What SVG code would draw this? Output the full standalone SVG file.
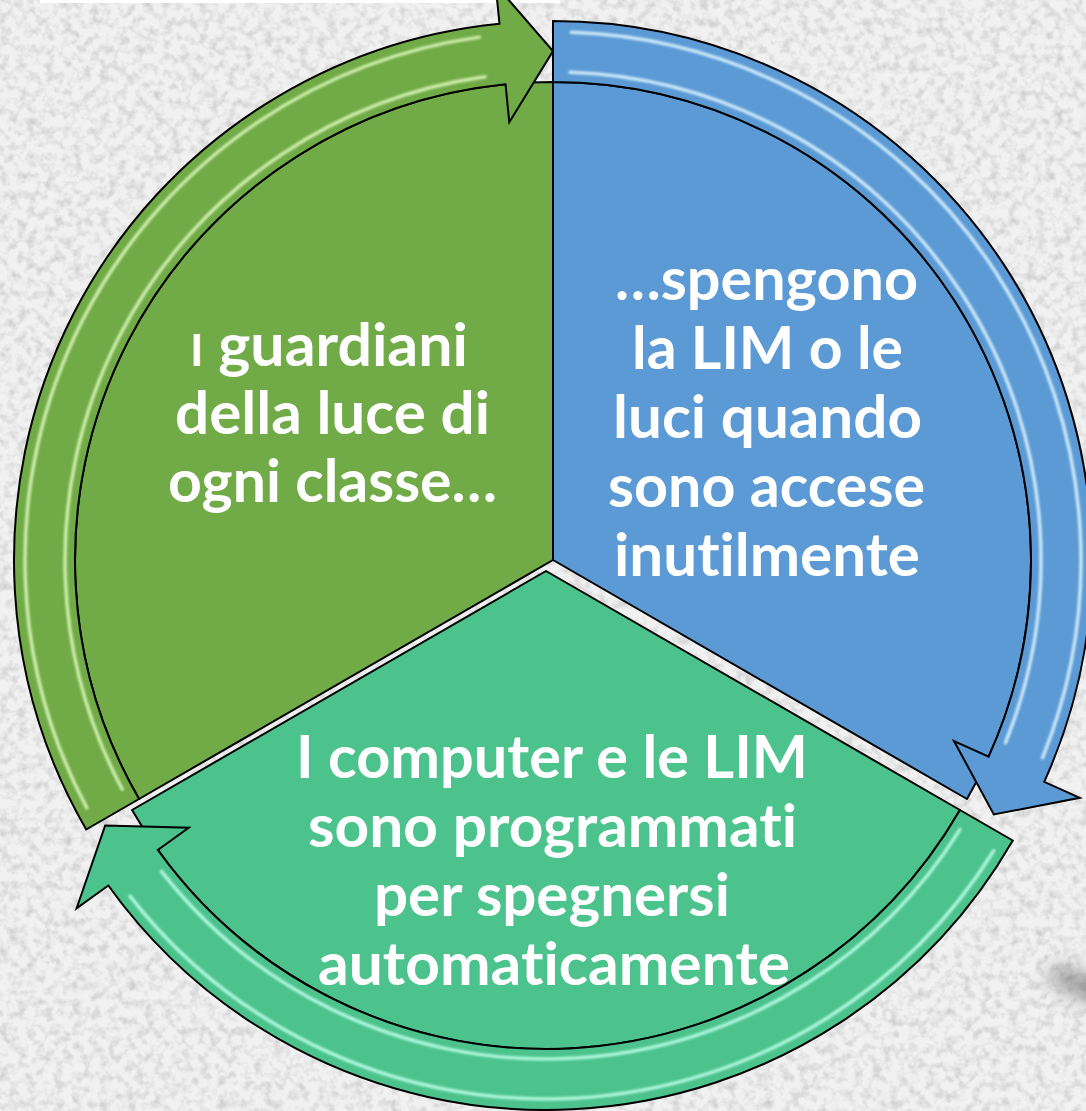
<svg xmlns="http://www.w3.org/2000/svg" width="1086" height="1111" viewBox="0 0 1086 1111">
<defs>
<filter id="noise" x="0" y="0" width="100%" height="100%">
<feTurbulence type="fractalNoise" baseFrequency="0.11" numOctaves="3" seed="7" result="n"/>
<feColorMatrix in="n" type="matrix" values="0 0 0 0 0.55  0 0 0 0 0.55  0 0 0 0 0.55  1.7 0 0 0 -0.72"/>
</filter>
<filter id="soft" x="-10%" y="-10%" width="120%" height="120%"><feGaussianBlur stdDeviation="1.1"/></filter>
<filter id="smudge" x="-100%" y="-100%" width="300%" height="300%"><feGaussianBlur stdDeviation="9"/></filter>
<style>
.sec{stroke:#000;stroke-width:2;stroke-linejoin:round}
.band{stroke:#000;stroke-width:2;stroke-linejoin:miter}
.g{fill:#71AB47}.b{fill:#5B9AD5}.t{fill:#4CC38D}
.hl{fill:none;stroke-width:3.5;stroke-linecap:round;opacity:.85;filter:url(#soft)}
.hg{stroke:#DDF9BC}.hb{stroke:#DDF4FF}.ht{stroke:#C0FFE8}
.lbl{font-family:Lato,"Open Sans","Liberation Sans",sans-serif;font-weight:700;font-size:59px;fill:#fff;font-variant-ligatures:none;font-feature-settings:"liga" 0,"clig" 0}
</style>
</defs>
<rect width="1086" height="1111" fill="#F1F1F1"/>
<rect width="1086" height="1111" filter="url(#noise)"/>
<rect x="40" y="0" width="520" height="3" fill="#fff"/>
<ellipse cx="1080" cy="985" rx="34" ry="13" transform="rotate(25 1080 985)" fill="#444" opacity=".45" filter="url(#smudge)"/>

<g id="node-green">
<path class="sec g" d="M553 560 L139.04 799 A478 478 0 0 1 553 82 Z"/>
<line x1="545" y1="92" x2="545" y2="550" class="hl hg"/>
<text class="lbl" x="190" y="366" textLength="278" lengthAdjust="spacingAndGlyphs"><tspan font-size="44">I</tspan> guardiani</text>
<text class="lbl" x="175" y="434" textLength="315" lengthAdjust="spacingAndGlyphs">della luce di</text>
<text class="lbl" x="168" y="502" textLength="329" lengthAdjust="spacingAndGlyphs">ogni classe…</text>
</g>

<g id="node-blue">
<path class="sec b" d="M553 560 L553 82 A478 478 0 0 1 966.96 799 Z"/>
<line x1="563" y1="92" x2="563" y2="548" class="hl hb"/>
<text class="lbl" x="615" y="300" textLength="303" lengthAdjust="spacingAndGlyphs">…spengono</text>
<text class="lbl" x="632" y="369" textLength="271" lengthAdjust="spacingAndGlyphs">la LIM o le</text>
<text class="lbl" x="613" y="438" textLength="309" lengthAdjust="spacingAndGlyphs">luci quando</text>
<text class="lbl" x="608" y="507" textLength="317" lengthAdjust="spacingAndGlyphs">sono accese</text>
<text class="lbl" x="614" y="576" textLength="306" lengthAdjust="spacingAndGlyphs">inutilmente</text>
</g>

<g id="node-teal">
<path class="sec t" d="M546 571 L959.96 810 A478 478 0 0 1 132.04 810 Z"/>
<text class="lbl" x="296" y="778" textLength="512" lengthAdjust="spacingAndGlyphs">I computer e le LIM</text>
<text class="lbl" x="308" y="847" textLength="489" lengthAdjust="spacingAndGlyphs">sono programmati</text>
<text class="lbl" x="374" y="916" textLength="356" lengthAdjust="spacingAndGlyphs">per spegnersi</text>
<text class="lbl" x="318" y="985" textLength="472" lengthAdjust="spacingAndGlyphs">automaticamente</text>
</g>

<g id="connectors">
<g id="arrow-green">
<path class="band g" d="M86.21 829.5 A539 539 0 0 1 499.47 23.66 L495.59 -15.14 L553 51 L509.3 122.17 L505.53 84.36 A478 478 0 0 0 139.04 799 Z"/>
<path class="hl hg" d="M122.12 789.1 A488 488 0 0 1 485.08 76.75"/>
<path class="hl hg" d="M86.8 807.88 A528 528 0 0 1 479.52 37.14"/>
</g>
<g id="arrow-blue">
<path class="band b" d="M553 21 A539 539 0 0 1 1044.24 781.8 L1079.79 797.85 L993.81 814.5 L954.02 741.06 L988.65 756.7 A478 478 0 0 0 553 82 Z"/>
<path class="hl hb" d="M570.03 72.3 A488 488 0 0 1 1005.46 742.81"/>
<path class="hl hb" d="M571.43 32.32 A528 528 0 0 1 1042.55 757.79"/>
</g>
<g id="arrow-teal">
<path class="band t" d="M1012.79 840.5 A539 539 0 0 1 108.29 885.53 L76.62 908.29 L105.19 825.5 L188.68 827.76 L157.83 849.93 A478 478 0 0 0 959.96 810 Z"/>
<path class="hl ht" d="M959.85 829.6 A488 488 0 0 1 161.45 871.44"/>
<path class="hl ht" d="M993.77 850.8 A528 528 0 0 1 129.93 896.07"/>
</g>
</g>
</svg>
